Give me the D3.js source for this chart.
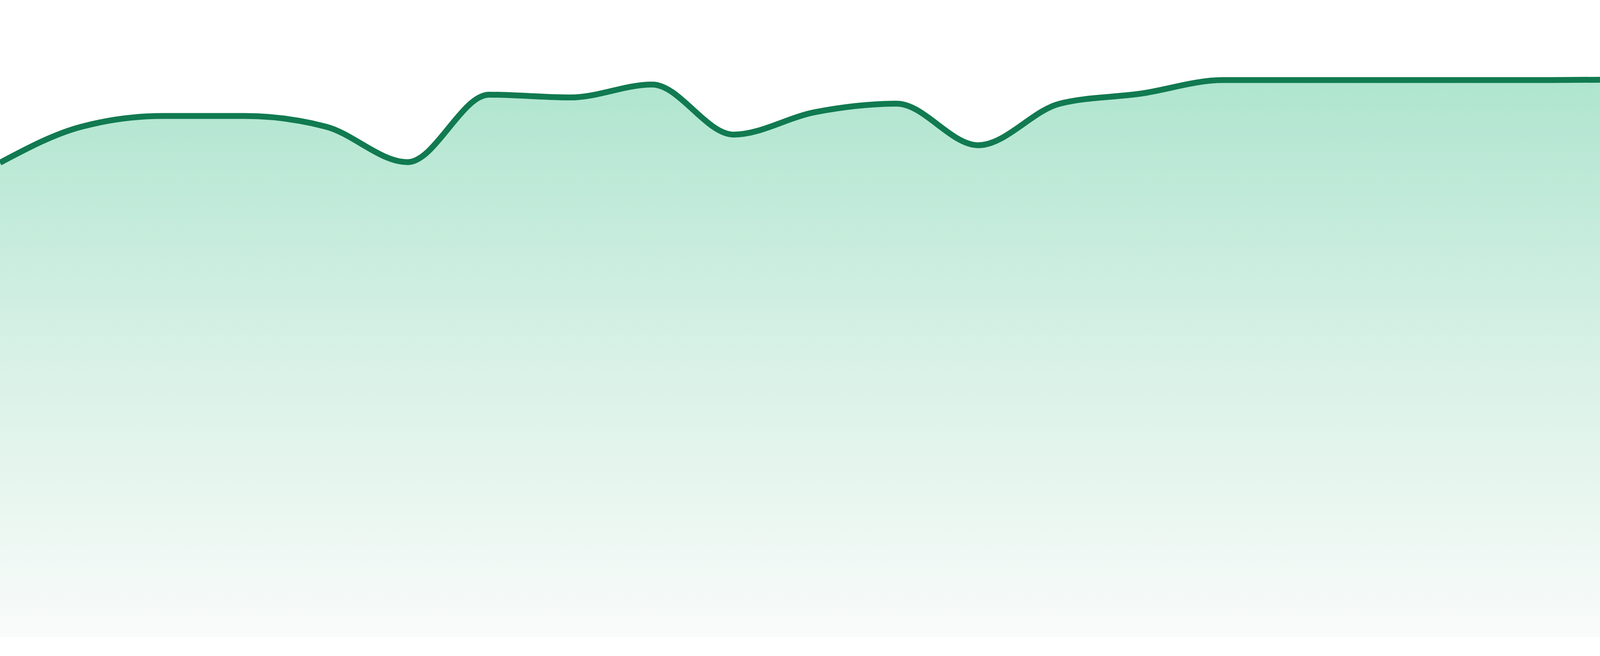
<!DOCTYPE html>
<html>
<head>
<meta charset="utf-8">
<script src="https://cdn.jsdelivr.net/npm/d3@7"></script>
<style>
  html, body { margin: 0; padding: 0; background: #ffffff; }
  svg { display: block; }
</style>
</head>
<body>
<div id="chart"></div>
<script>
// Data (24 evenly spaced points, arbitrary units 0..100)
const categories = d3.range(24);
const values = [84.4, 90.8, 92.7, 92.7, 90.8, 84.5, 96.5, 96.0, 98.3, 89.4, 93.4, 94.9,
                87.5, 94.9, 96.7, 99.1, 99.1, 99.1, 99.1, 99.1, 99.2, 99.3, 99.2, 99.1];
const yDomain = [0, 100];

const W = 4800, H = 1680;
const margin = { top: 192, right: 0, bottom: 48, left: 0 };

const svg = d3.select("#chart").append("svg")
  .attr("width", W).attr("height", H);

const x = d3.scaleLinear()
  .domain([0, categories.length - 1])
  .range([margin.left, W - margin.right]);
const y = d3.scaleLinear()
  .domain(yDomain)
  .range([H - margin.bottom, margin.top]);

const defs = svg.append("defs");
const grad = defs.append("linearGradient")
  .attr("id", "areaFill")
  .attr("x1", 0).attr("y1", 0).attr("x2", 0).attr("y2", 1);
grad.append("stop").attr("offset", "0%").attr("stop-color", "#afe5cf");
grad.append("stop").attr("offset", "50%").attr("stop-color", "#d8f1e6");
grad.append("stop").attr("offset", "100%").attr("stop-color", "#f9fbfa");

const data = categories.map((c, i) => ({ c, v: values[i] }));

const area = d3.area()
  .x(d => x(d.c))
  .y0(y(0))
  .y1(d => y(d.v))
  .curve(d3.curveMonotoneX);

const line = d3.line()
  .x(d => x(d.c))
  .y(d => y(d.v))
  .curve(d3.curveMonotoneX);

svg.append("path")
  .datum(data)
  .attr("d", area)
  .attr("fill", "url(#areaFill)");

svg.append("path")
  .datum(data)
  .attr("d", line)
  .attr("fill", "none")
  .attr("stroke", "#117a50")
  .attr("stroke-width", 15)
  .attr("stroke-linejoin", "round");
</script>
</body>
</html>
